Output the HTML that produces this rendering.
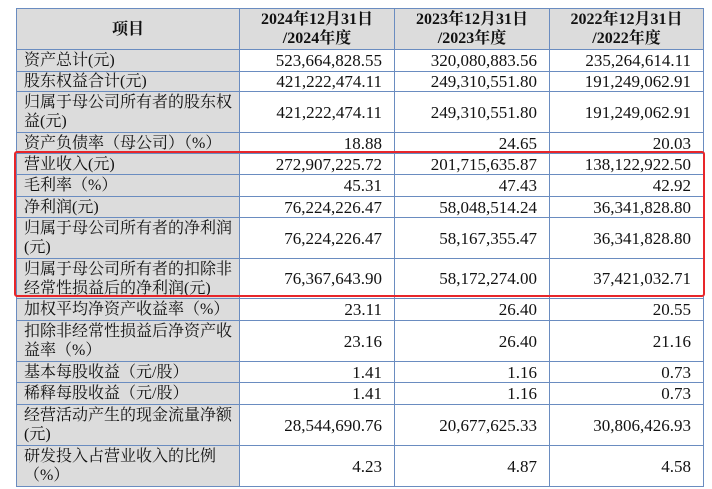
<!DOCTYPE html>
<html><head><meta charset="utf-8"><style>
body{margin:0;background:#fff;width:712px;height:489px;overflow:hidden;position:relative;font-family:"Liberation Serif","Noto Serif CJK SC",serif;}
table{position:absolute;left:16px;top:8px;border-collapse:collapse;table-layout:fixed;}
td{border:1px solid #6a8cc0;padding:0;font-size:17px;line-height:19px;color:#111;overflow:hidden;}
td.l{background:#dcdcdc;padding-left:7px;padding-right:2px;font-size:16px;letter-spacing:0;line-height:19px;}
td.n{text-align:right;padding-right:12px;}
tr.h td{background:#dcdcdc;text-align:center;font-weight:bold;font-size:16px;}
.box{position:absolute;left:14px;top:151px;width:687px;height:142px;border:2px solid #e8262a;border-radius:3px;}
</style></head><body>
<table>
<colgroup><col style="width:223px"><col style="width:155px"><col style="width:155px"><col style="width:154px"></colgroup>
<tr class="h" style="height:41px"><td>项目</td><td>2024年12月31日<br>/2024年度</td><td>2023年12月31日<br>/2023年度</td><td>2022年12月31日<br>/2022年度</td></tr>
<tr style="height:22px"><td class="l">资产总计(元)</td><td class="n">523,664,828.55</td><td class="n">320,080,883.56</td><td class="n">235,264,614.11</td></tr>
<tr style="height:20px"><td class="l">股东权益合计(元)</td><td class="n">421,222,474.11</td><td class="n">249,310,551.80</td><td class="n">191,249,062.91</td></tr>
<tr style="height:41px"><td class="l">归属于母公司所有者的股东权益(元)</td><td class="n">421,222,474.11</td><td class="n">249,310,551.80</td><td class="n">191,249,062.91</td></tr>
<tr style="height:21px"><td class="l">资产负债率（母公司）（%）</td><td class="n">18.88</td><td class="n">24.65</td><td class="n">20.03</td></tr>
<tr style="height:21px"><td class="l">营业收入(元)</td><td class="n">272,907,225.72</td><td class="n">201,715,635.87</td><td class="n">138,122,922.50</td></tr>
<tr style="height:22px"><td class="l">毛利率（%）</td><td class="n">45.31</td><td class="n">47.43</td><td class="n">42.92</td></tr>
<tr style="height:21px"><td class="l">净利润(元)</td><td class="n">76,224,226.47</td><td class="n">58,048,514.24</td><td class="n">36,341,828.80</td></tr>
<tr style="height:41px"><td class="l">归属于母公司所有者的净利润(元)</td><td class="n">76,224,226.47</td><td class="n">58,167,355.47</td><td class="n">36,341,828.80</td></tr>
<tr style="height:40px"><td class="l">归属于母公司所有者的扣除非经常性损益后的净利润(元)</td><td class="n">76,367,643.90</td><td class="n">58,172,274.00</td><td class="n">37,421,032.71</td></tr>
<tr style="height:22px"><td class="l">加权平均净资产收益率（%）</td><td class="n">23.11</td><td class="n">26.40</td><td class="n">20.55</td></tr>
<tr style="height:41px"><td class="l">扣除非经常性损益后净资产收益率（%）</td><td class="n">23.16</td><td class="n">26.40</td><td class="n">21.16</td></tr>
<tr style="height:21px"><td class="l">基本每股收益（元/股）</td><td class="n">1.41</td><td class="n">1.16</td><td class="n">0.73</td></tr>
<tr style="height:22px"><td class="l">稀释每股收益（元/股）</td><td class="n">1.41</td><td class="n">1.16</td><td class="n">0.73</td></tr>
<tr style="height:41px"><td class="l">经营活动产生的现金流量净额(元)</td><td class="n">28,544,690.76</td><td class="n">20,677,625.33</td><td class="n">30,806,426.93</td></tr>
<tr style="height:41px"><td class="l">研发投入占营业收入的比例（%）</td><td class="n">4.23</td><td class="n">4.87</td><td class="n">4.58</td></tr>
</table>
<div class="box"></div>
</body></html>
